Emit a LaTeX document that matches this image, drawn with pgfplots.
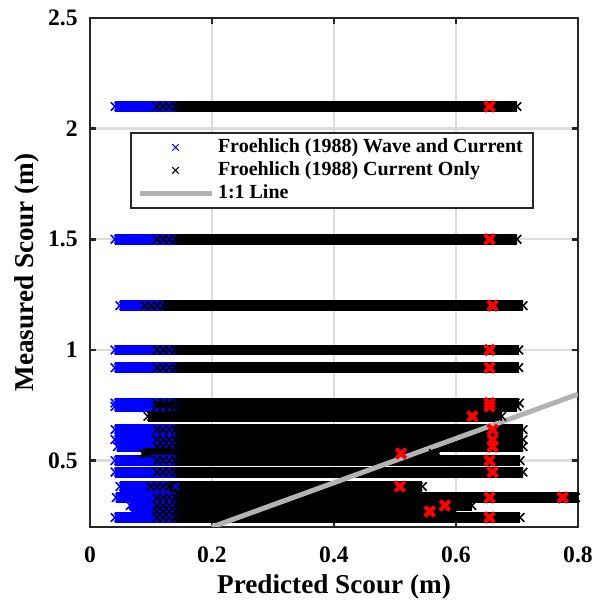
\documentclass[border=0pt]{standalone}
\usepackage{pgfplots}
\pgfplotsset{compat=1.18}
\usepackage{fontspec}
\setmainfont{Liberation Serif}
\definecolor{axcol}{HTML}{262626}
\definecolor{gridcol}{HTML}{DCDCDC}
\definecolor{onecol}{HTML}{B3B3B3}
\pgfplotsset{
 bb/.style={forget plot, color=blue, line width=5.4pt, line cap=butt, mark=x, mark size=3pt, mark options={solid, line width=0.8pt}},
 kb/.style={forget plot, color=black, line width=5.4pt, line cap=butt, mark=x, mark size=3pt, mark options={solid, line width=0.8pt}},
 kx/.style={forget plot, only marks, color=black, mark=x, mark size=3pt, mark options={solid, line width=0.8pt}},
 rx/.style={forget plot, only marks, color=red, mark=x, mark size=3.4pt, mark options={solid, line width=2pt}},
}
\begin{document}
\begin{tikzpicture}
\useasboundingbox (-45pt,-36.5pt) rectangle (256pt,263.5pt);
\begin{axis}[
 at={(0,0)}, anchor=south west,
 width=244pt, height=254.5pt, scale only axis,
 xmin=0, xmax=0.8, ymin=0.2, ymax=2.5,
 xtick={0,0.2,0.4,0.6,0.8}, ytick={0.5,1,1.5,2,2.5},
 grid=major, major grid style={gridcol, line width=1.2pt},
 axis line style={axcol, line width=1.4pt},
 tick style={axcol, line width=1.4pt},
 tick align=inside, major tick length=3pt,
 tick label style={font=\fontsize{11.8}{12}\selectfont\bfseries},
 /pgf/number format/assume math mode=true,
 xticklabel style={inner sep=0pt, yshift=-9.5pt},
 yticklabel style={inner sep=0pt, xshift=-6pt},
 xlabel={Predicted Scour (m)}, ylabel={Measured Scour (m)},
 label style={font=\fontsize{13.6}{15}\selectfont\bfseries},
 xlabel style={at={(axis description cs:0.5,0)}, anchor=north, inner sep=0pt, yshift=-23.5pt},
 ylabel style={at={(axis description cs:-0.129,0.5)}, anchor=center, inner sep=0pt},
 legend cell align=left,
 legend image code/.code={\draw[mark repeat=2,mark phase=2,#1] plot coordinates {(0pt,0pt) (18pt,0pt) (36pt,0pt)};},
 legend style={at={(0.082,0.776)}, anchor=north west, draw=axcol, line width=1pt, fill=white,
   font=\fontsize{10}{11}\selectfont\bfseries, inner xsep=3pt, inner ysep=1pt, row sep=-1pt},
]
\addlegendimage{only marks, mark=x, color=blue, mark size=2.3pt, mark options={line width=0.5pt}}
\addlegendentry{Froehlich (1988) Wave and Current}
\addlegendimage{only marks, mark=x, color=black, mark size=2.3pt, mark options={line width=0.5pt}}
\addlegendentry{Froehlich (1988) Current Only}
\addlegendimage{onecol, line width=2.5pt}
\addlegendentry{1:1 Line}

% y = 2.10
\addplot[bb] coordinates {(0.041,2.1) (0.047,2.1) (0.14,2.1)};
\addplot[kx] coordinates {(0.11,2.1) (0.12,2.1) (0.13,2.1)};
\addplot[kb] coordinates {(0.14,2.1) (0.693,2.1) (0.700,2.1)};
% y = 1.50
\addplot[bb] coordinates {(0.041,1.5) (0.047,1.5) (0.14,1.5)};
\addplot[kx] coordinates {(0.11,1.5) (0.12,1.5) (0.13,1.5)};
\addplot[kb] coordinates {(0.14,1.5) (0.693,1.5) (0.700,1.5)};
% y = 1.20
\addplot[bb] coordinates {(0.049,1.2) (0.055,1.2) (0.12,1.2)};
\addplot[kx] coordinates {(0.09,1.2) (0.10,1.2) (0.11,1.2)};
\addplot[kb] coordinates {(0.12,1.2) (0.703,1.2) (0.710,1.2)};
% y = 1.00
\addplot[bb] coordinates {(0.041,1.0) (0.047,1.0) (0.14,1.0)};
\addplot[kx] coordinates {(0.11,1.0) (0.12,1.0) (0.13,1.0)};
\addplot[kb] coordinates {(0.14,1.0) (0.696,1.0) (0.703,1.0)};
% y = 0.92
\addplot[bb] coordinates {(0.041,0.92) (0.047,0.92) (0.14,0.92)};
\addplot[kx] coordinates {(0.11,0.92) (0.12,0.92) (0.13,0.92)};
\addplot[kb] coordinates {(0.14,0.92) (0.696,0.92) (0.703,0.92)};
% y = 0.76
\addplot[bb] coordinates {(0.041,0.76) (0.047,0.76) (0.14,0.76)};
\addplot[kx] coordinates {(0.11,0.76) (0.12,0.76) (0.13,0.76)};
\addplot[kb] coordinates {(0.14,0.76) (0.697,0.76) (0.704,0.76)};
% y = 0.745
\addplot[bb] coordinates {(0.041,0.745) (0.047,0.745) (0.14,0.745)};
\addplot[kx] coordinates {(0.11,0.745) (0.12,0.745) (0.13,0.745)};
\addplot[kb] coordinates {(0.14,0.745) (0.693,0.745) (0.700,0.745)};
% y = 0.70
\addplot[kb] coordinates {(0.095,0.70) (0.101,0.70) (0.668,0.70) (0.675,0.70)};
% y = 0.64
\addplot[bb] coordinates {(0.041,0.64) (0.047,0.64) (0.14,0.64)};
\addplot[kx] coordinates {(0.11,0.64) (0.12,0.64) (0.13,0.64)};
\addplot[kb] coordinates {(0.14,0.64) (0.703,0.64) (0.710,0.64)};
% y = 0.595
\addplot[bb] coordinates {(0.041,0.595) (0.047,0.595) (0.14,0.595)};
\addplot[kx] coordinates {(0.11,0.595) (0.12,0.595) (0.13,0.595)};
\addplot[kb] coordinates {(0.14,0.595) (0.703,0.595) (0.710,0.595)};
% y = 0.563
\addplot[bb] coordinates {(0.045,0.563) (0.051,0.563) (0.14,0.563)};
\addplot[kx] coordinates {(0.11,0.563) (0.12,0.563) (0.13,0.563)};
\addplot[kb] coordinates {(0.14,0.563) (0.703,0.563) (0.710,0.563)};
% y = 0.532
\addplot[kb] coordinates {(0.087,0.532) (0.093,0.532) (0.563,0.532) (0.570,0.532)};
% y = 0.50
\addplot[bb] coordinates {(0.041,0.50) (0.047,0.50) (0.14,0.50)};
\addplot[kx] coordinates {(0.11,0.50) (0.12,0.50) (0.13,0.50)};
\addplot[kb] coordinates {(0.14,0.50) (0.698,0.50) (0.705,0.50)};
% y = 0.448
\addplot[bb] coordinates {(0.041,0.448) (0.047,0.448) (0.14,0.448)};
\addplot[kx] coordinates {(0.11,0.448) (0.12,0.448) (0.13,0.448)};
\addplot[kb] coordinates {(0.14,0.448) (0.703,0.448) (0.710,0.448)};
% y = 0.383
\addplot[bb] coordinates {(0.049,0.383) (0.055,0.383) (0.14,0.383)};
\addplot[kx] coordinates {(0.10,0.383) (0.11,0.383) (0.12,0.383)};
\addplot[kb] coordinates {(0.13,0.383) (0.538,0.383) (0.545,0.383)};
% y = 0.333
\addplot[bb] coordinates {(0.043,0.333) (0.049,0.333) (0.14,0.333)};
\addplot[kx] coordinates {(0.11,0.333) (0.12,0.333) (0.13,0.333)};
\addplot[kb] coordinates {(0.14,0.333) (0.796,0.333) (0.803,0.333)};
% y = 0.297
\addplot[bb] coordinates {(0.066,0.297) (0.072,0.297) (0.14,0.297)};
\addplot[kx] coordinates {(0.11,0.297) (0.12,0.297) (0.13,0.297)};
\addplot[kb] coordinates {(0.14,0.297) (0.619,0.297) (0.626,0.297)};
% y = 0.27
\addplot[bb] coordinates {(0.070,0.27) (0.076,0.27) (0.14,0.27)};
\addplot[kx] coordinates {(0.11,0.27) (0.12,0.27) (0.13,0.27)};
\addplot[kb] coordinates {(0.14,0.27) (0.591,0.27) (0.598,0.27)};
% y = 0.243
\addplot[bb] coordinates {(0.041,0.243) (0.047,0.243) (0.14,0.243)};
\addplot[kx] coordinates {(0.11,0.243) (0.12,0.243) (0.13,0.243)};
\addplot[kb] coordinates {(0.14,0.243) (0.698,0.243) (0.705,0.243)};

% red points
\addplot[rx] coordinates {(0.655,2.1) (0.655,1.5) (0.66,1.2) (0.655,1.0) (0.655,0.92)
 (0.655,0.76) (0.655,0.745) (0.627,0.70) (0.66,0.64) (0.66,0.595) (0.66,0.563)
 (0.51,0.532) (0.655,0.50) (0.66,0.448) (0.508,0.383) (0.655,0.333) (0.775,0.333)
 (0.582,0.297) (0.557,0.27) (0.655,0.243)};

% 1:1 line
\addplot[forget plot, onecol, line width=2.5pt] coordinates {(0.2,0.2) (0.8,0.8)};
\end{axis}
\end{tikzpicture}
\end{document}
